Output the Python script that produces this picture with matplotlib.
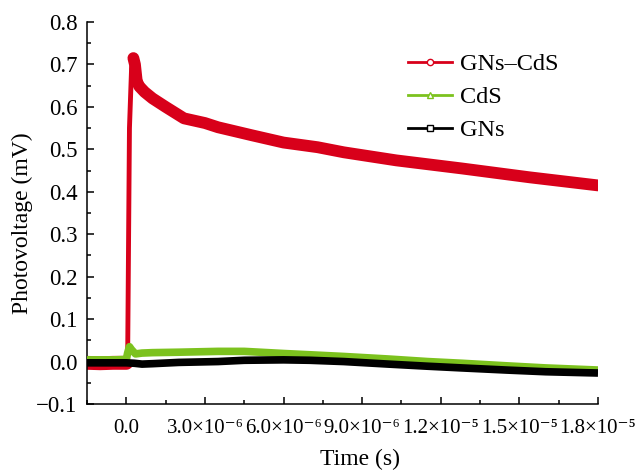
import matplotlib
matplotlib.use("Agg")
import matplotlib.pyplot as plt
import numpy as np
from matplotlib.lines import Line2D
from matplotlib.ticker import MultipleLocator, FuncFormatter

plt.rcParams["font.family"] = ["Liberation Serif", "DejaVu Serif"]

# ── Datos (tiempo en µs, fotovoltaje en mV) ──────────────────────────
red_t = [-1.5, -1.0, -0.5, 0.0, 0.05, 0.12, 0.2, 0.27, 0.33, 0.4, 0.5, 0.7,
         1.0, 1.5, 2.2, 3.0, 3.5, 4.8, 6.0, 7.3, 8.3, 10.3, 12.8, 15.4, 18.0]
red_v = [-0.003, -0.004, -0.003, -0.003, 0.0, 0.55, 0.69, 0.715, 0.70, 0.66,
         0.648, 0.635, 0.62, 0.60, 0.573, 0.562, 0.552, 0.533, 0.516, 0.505,
         0.493, 0.474, 0.455, 0.434, 0.415]

green_t = [-1.5, -1.0, -0.5, 0.0, 0.05, 0.12, 0.2, 0.35, 0.6, 1.0, 2.0, 3.5,
           4.5, 6.0, 7.0, 8.3, 10.0, 11.5, 12.8, 14.5, 16.0, 18.0]
green_v = [0.004, 0.004, 0.004, 0.005, 0.02, 0.035, 0.028, 0.018, 0.02, 0.021,
           0.022, 0.024, 0.024, 0.019, 0.016, 0.012, 0.006, 0.0, -0.004,
           -0.010, -0.015, -0.02]

black_t = [-1.5, -1.0, -0.5, 0.0, 0.3, 0.6, 1.0, 2.0, 3.5, 4.5, 6.0, 7.0,
           8.3, 10.0, 11.5, 12.8, 14.5, 16.0, 18.0]
black_v = [-0.003, -0.003, -0.003, -0.003, -0.004, -0.006, -0.005, -0.002,
           0.0, 0.003, 0.004, 0.003, 0.0, -0.006, -0.011, -0.015, -0.02,
           -0.024, -0.027]

labels = ["GNs\u2013CdS", "CdS", "GNs"]
ROJO, VERDE, NEGRO = "#d8001a", "#7cc21e", "#000000"

red_t = np.array(red_t) * 1e-6
red_v = np.array(red_v)
green_t = np.array(green_t) * 1e-6
black_t = np.array(black_t) * 1e-6

fig = plt.figure(figsize=(6.39, 4.71), dpi=100)
ax = fig.add_axes([87 / 639, 1 - 404 / 471, 511 / 639, 382 / 471])

# banda roja: línea fina para el flanco de subida, gruesa para el resto
ax.plot(red_t, red_v, color=ROJO, lw=3.5, zorder=2)
ax.plot(red_t[:5], red_v[:5], color=ROJO, lw=10, zorder=2,
        solid_capstyle="butt")
ax.plot(red_t[7:], red_v[7:], color=ROJO, lw=8.5, zorder=2,
        solid_capstyle="round", solid_joinstyle="round")
ax.plot(green_t, green_v, color=VERDE, lw=5.5, zorder=3,
        solid_capstyle="butt", solid_joinstyle="round")
ax.plot(black_t, black_v, color=NEGRO, lw=5.5, zorder=4,
        solid_capstyle="butt", solid_joinstyle="round")

ax.set_xlim(-1.5e-6, 1.8e-5)
ax.set_ylim(-0.1, 0.8)
ax.spines["top"].set_visible(False)
ax.spines["right"].set_visible(False)
for s in ("left", "bottom"):
    ax.spines[s].set_linewidth(1.1)

ax.xaxis.set_major_locator(MultipleLocator(3e-6))
ax.xaxis.set_minor_locator(MultipleLocator(1.5e-6))
ax.yaxis.set_major_locator(MultipleLocator(0.1))
ax.yaxis.set_minor_locator(MultipleLocator(0.05))

SUP = str.maketrans("-0123456789", "\u207b\u2070\u00b9\u00b2\u00b3\u2074\u2075\u2076\u2077\u2078\u2079")


def fmt_x(x, pos):
    if abs(x) < 1e-12:
        return "0.0"
    exp = int(np.floor(np.log10(abs(x)) + 1e-9))
    mant = x / 10 ** exp
    return "%.1f\u00d710%s" % (mant, str(exp).translate(SUP))


def fmt_y(y, pos):
    return ("%.1f" % y).replace("-", "\u2212")


ax.xaxis.set_major_formatter(FuncFormatter(fmt_x))
ax.yaxis.set_major_formatter(FuncFormatter(fmt_y))
ax.tick_params(which="major", direction="in", length=5, width=1.1,
               labelsize=16.5, pad=7)
ax.tick_params(which="minor", direction="in", length=3, width=1.1)
ax.tick_params(axis="x", pad=11, labelsize=15)

ax.set_xlabel("Time (s)", fontsize=17)
ax.set_ylabel("Photovoltage (mV)", fontsize=17)
ax.xaxis.set_label_coords(0.534, -0.118)
ax.yaxis.set_label_coords(-0.105, 0.474)

handles = [
    Line2D([], [], color=ROJO, lw=2, marker="o", ms=4.5, mfc="white", mec=ROJO),
    Line2D([], [], color=VERDE, lw=2, marker="^", ms=4.5, mfc="white", mec=VERDE),
    Line2D([], [], color=NEGRO, lw=2, marker="s", ms=4, mfc="white", mec=NEGRO),
]
ax.legend(handles, labels, loc="upper left", bbox_to_anchor=(0.585, 0.975),
          frameon=False, fontsize=17.5, handlelength=1.8, handletextpad=0.35,
          labelspacing=0.45)

fig.savefig("out.png", dpi=100)
